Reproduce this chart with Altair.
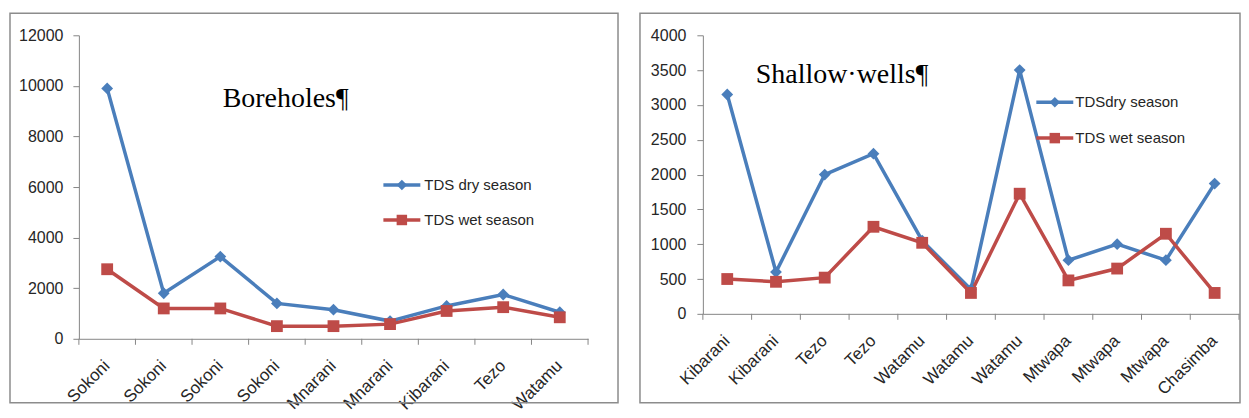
import json
import altair as alt
import pandas as pd

# ---------------- data ----------------
bh_sites = ["Sokoni", "Sokoni", "Sokoni", "Sokoni", "Mnarani", "Mnarani", "Kibarani", "Tezo", "Watamu"]
bh_dry = [9900, 1800, 3250, 1400, 1150, 700, 1300, 1750, 1050]
bh_wet = [2750, 1200, 1200, 500, 500, 580, 1100, 1250, 850]

sw_sites = ["Kibarani", "Kibarani", "Tezo", "Tezo", "Watamu", "Watamu", "Watamu", "Mtwapa", "Mtwapa", "Mtwapa", "Chasimba"]
sw_dry = [3150, 600, 2000, 2300, 1050, 350, 3500, 770, 1000, 770, 1870]
sw_wet = [500, 460, 520, 1250, 1020, 300, 1725, 480, 650, 1150, 300]

series_keys = ["dry", "wet"]
bh_series_labels = ["TDS dry season", "TDS wet season"]
sw_series_labels = ["TDSdry season", "TDS wet season"]
bh_title = "Boreholes¶"
sw_title = "Shallow·wells¶"
bh_y_ticks = [0, 2000, 4000, 6000, 8000, 10000, 12000]
sw_y_ticks = [0, 500, 1000, 1500, 2000, 2500, 3000, 3500, 4000]

# ---------------- style ----------------
BLUE = "#4A7EBB"
RED = "#BE4B48"
AXIS_GRAY = "#868686"
TEXT = "#262626"
SANS = "Liberation Sans"
SERIF = "Liberation Serif"
SERIES_COLORS = [BLUE, RED]
SERIES_SHAPES = ["diamond", "square"]


def panel(sites, dry, wet, labels, yticks, ymax, w, h, title, title_xy,
          legend_geom, border, ylab_pad):
    n = len(sites)
    rows = []
    for key, vals in zip(series_keys, [dry, wet]):
        for i, v in enumerate(vals):
            rows.append({"idx": i, "series": key, "value": v})
    df = pd.DataFrame(rows)

    xscale = alt.Scale(type="band", domain=list(range(n)), paddingInner=0, paddingOuter=0)
    label_expr = json.dumps(sites) + "[datum.value]"
    x_axis = alt.Axis(title=None, labelExpr=label_expr, labelAngle=-45, labelAlign="right",
                      labelBaseline="middle", ticks=False, labelPadding=24,
                      labelOverlap=False, labelFontSize=17, domainColor=AXIS_GRAY)
    y = alt.Y("value:Q", scale=alt.Scale(domain=[0, ymax], nice=False, zero=True),
              axis=alt.Axis(title=None, values=yticks, grid=False, tickSize=6,
                            labelPadding=ylab_pad, format="d", tickColor=AXIS_GRAY,
                            labelFontSize=16, domainColor=AXIS_GRAY))

    one = pd.DataFrame({"a": [0]})
    frame = alt.Chart(one).mark_rect(fill="transparent", stroke="#8c8c8c", strokeWidth=1.5).encode(
        x=alt.value(border[0]), x2=alt.value(border[1]),
        y=alt.value(border[2]), y2=alt.value(border[3]))

    title_layer = alt.Chart(pd.DataFrame({"t": [title]})).mark_text(
        align="left", baseline="alphabetic", font=SERIF, fontSize=28, color="black").encode(
        x=alt.value(title_xy[0]), y=alt.value(title_xy[1]), text="t:N")

    tick_df = pd.DataFrame({"idx": list(range(n))})
    ticks0 = alt.Chart(tick_df).mark_rule(color=AXIS_GRAY, strokeWidth=1).encode(
        x=alt.X("idx:O", scale=xscale, axis=x_axis, bandPosition=0),
        y=alt.value(h), y2=alt.value(h + 6))
    ticks1 = alt.Chart(tick_df[tick_df["idx"] == n - 1]).mark_rule(color=AXIS_GRAY, strokeWidth=1).encode(
        x=alt.X("idx:O", scale=xscale, axis=x_axis, bandPosition=1),
        y=alt.value(h), y2=alt.value(h + 6))

    base = alt.Chart(df)
    color = alt.Color("series:N", scale=alt.Scale(domain=series_keys, range=SERIES_COLORS), legend=None)
    lines = base.mark_line(strokeWidth=3.5).encode(
        x=alt.X("idx:O", scale=xscale, axis=x_axis), y=y, color=color, detail="series:N")
    pts_dry = base.transform_filter(alt.datum.series == "dry").mark_point(
        filled=True, size=140, opacity=1, shape="diamond").encode(
        x=alt.X("idx:O", scale=xscale, axis=x_axis), y=y, color=color)
    pts_wet = base.transform_filter(alt.datum.series == "wet").mark_point(
        filled=True, size=140, opacity=1, shape="square").encode(
        x=alt.X("idx:O", scale=xscale, axis=x_axis), y=y, color=color)

    # legend (Excel-style: line with marker, then label)
    lx0, lx1, tx, ly0, dy = legend_geom
    legend_layers = []
    for k, (lab, col, shp) in enumerate(zip(labels, SERIES_COLORS, SERIES_SHAPES)):
        ldf = pd.DataFrame({"label": [lab]})
        ly = ly0 + k * dy
        legend_layers.append(alt.Chart(ldf).mark_rule(color=col, strokeWidth=3.5).encode(
            x=alt.value(lx0), x2=alt.value(lx1), y=alt.value(ly)))
        legend_layers.append(alt.Chart(ldf).mark_point(
            filled=True, size=110, opacity=1, shape=shp, color=col).encode(
            x=alt.value((lx0 + lx1) / 2), y=alt.value(ly)))
        legend_layers.append(alt.Chart(ldf).mark_text(
            align="left", baseline="middle", font=SANS, fontSize=15, color=TEXT).encode(
            x=alt.value(tx), y=alt.value(ly), text="label:N"))

    return alt.layer(frame, title_layer, ticks0, ticks1, lines, pts_dry, pts_wet,
                     *legend_layers).properties(width=w, height=h)


left = panel(bh_sites, bh_dry, bh_wet, bh_series_labels, bh_y_ticks, 12000, 510, 304,
             bh_title, (144, 72), (305, 342, 346, 150, 35), (-69, 540, -22, 368), 10)
right = panel(sw_sites, sw_dry, sw_wet, sw_series_labels, sw_y_ticks, 4000, 537, 279,
              sw_title, (53, 48), (334, 371, 373, 67, 36), (-63, 538, -22, 368), 11)

chart = alt.hconcat(left, right, spacing=20).resolve_scale(
    color="independent").properties(
    padding={"left": 1, "top": 4, "right": 0, "bottom": 0}, background="white"
).configure_view(strokeWidth=0).configure_axis(
    labelFont=SANS, labelColor=TEXT)

chart.save("out.html", embed_options={"renderer": "svg", "actions": False})
